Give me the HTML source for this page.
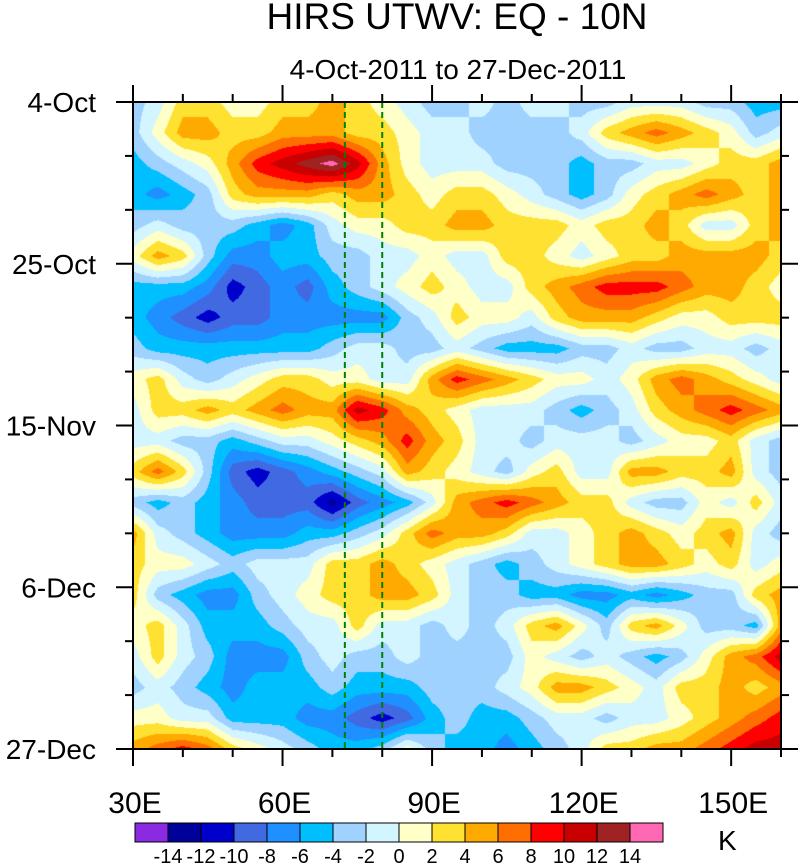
<!DOCTYPE html>
<html><head><meta charset="utf-8"><style>
body{margin:0;background:#fff;width:800px;height:864px;overflow:hidden;position:relative;font-family:"Liberation Sans",sans-serif}
.t{position:absolute;white-space:nowrap;color:#000}
</style></head><body>
<div class="t" style="left:0;width:914px;text-align:center;top:-4px;font-size:37px">HIRS UTWV: EQ - 10N</div>
<div class="t" style="left:0;width:916px;text-align:center;top:54px;font-size:28px">4-Oct-2011 to 27-Dec-2011</div>
<canvas id="cv" width="648" height="647" style="position:absolute;left:133px;top:102px"></canvas>
<svg id="sv" width="800" height="864" style="position:absolute;left:0;top:0"></svg>
<script>
const lons=[30,35,40,45,50,55,60,65,70,75,80,85,90,95,100,105,110,115,120,125,130,135,140,145,150,155,160];
const days=[0,4,8,12,16,20,24,28,32,36,40,44,48,52,56,60,64,68,72,76,80,84];
const utwv=[
[-3,-1,3,3,1,1,3,3,5,3,1,-1,-3,-3,-1,-3,-1,-1,-3,-3,-1,-1,-1,-3,-3,-5,-5],
[-3,1,5,5,3,3,5,5,5,3,3,1,-1,-1,-3,-3,-3,-3,-1,3,5,7,5,3,1,-3,-1],
[-5,-3,-1,1,5,9,11,13,15,11,5,1,-1,-1,-1,-3,-3,-3,-5,-3,-3,-1,-1,1,3,3,5],
[-5,-7,-5,-3,3,5,5,5,3,5,5,3,1,3,3,1,-1,-3,-5,-3,1,3,5,7,5,3,5],
[-3,-1,-3,-3,-3,-5,-7,-5,-1,1,1,3,3,5,5,3,3,3,1,3,3,5,3,-1,-1,3,5],
[1,5,3,-3,-7,-7,-5,-5,-3,-3,-1,-1,1,-1,-1,3,3,1,-1,1,3,3,5,5,5,5,3],
[-5,-5,-5,-7,-11,-9,-7,-9,-5,-3,-1,1,3,1,-1,-1,3,5,7,9,9,9,7,5,5,3,1],
[-5,-7,-9,-11,-9,-9,-7,-7,-7,-7,-7,-3,-1,3,1,1,-1,3,5,5,5,3,1,1,3,3,3],
[-3,-5,-5,-5,-5,-5,-5,-5,-3,-1,-1,-3,-3,-1,-3,-5,-5,-5,-3,-3,-1,-3,-3,-1,-1,-3,-1],
[1,3,-1,-3,-1,1,3,3,1,1,-1,-1,5,9,7,5,3,1,1,-1,1,5,7,5,3,1,-1],
[-1,3,3,5,3,5,7,5,5,11,9,5,3,1,-1,-1,-1,-3,-5,-3,-1,3,5,7,9,7,5],
[-1,-1,-3,-3,-5,-3,-1,-1,1,3,5,9,5,3,-1,-1,-3,-1,-1,-1,-3,-1,1,1,3,-1,-3],
[3,7,3,-3,-9,-11,-9,-7,-5,-3,-1,5,3,1,-1,-3,1,3,-1,-1,5,5,3,3,5,-1,-3],
[-3,-5,-3,-5,-7,-9,-9,-9,-13,-9,-7,-5,-1,5,7,9,7,5,3,3,-1,-3,-3,1,-1,3,-1],
[5,-1,-3,-5,-7,-7,-7,-5,-5,-3,-1,3,7,5,5,3,-1,-1,1,3,5,3,1,3,5,-1,-3],
[3,1,1,-1,-3,-1,-1,-1,3,3,5,3,1,-1,-3,-5,-3,-1,1,3,5,5,3,1,3,-1,1],
[3,-3,-5,-7,-7,-3,-1,1,3,3,5,5,3,-1,-3,-3,-5,-5,-7,-7,-5,-7,-5,-3,-3,3,5],
[1,3,-1,-5,-5,-5,-3,-1,-1,3,-1,-1,-3,-1,-3,-1,3,5,1,-3,3,5,1,-3,-3,-5,5],
[-1,3,-1,-3,-7,-7,-7,-3,-1,-3,-3,-1,-3,-3,-3,-3,1,-1,-3,-1,-3,-5,-3,1,5,7,11],
[-3,-1,-3,-5,-7,-5,-5,-5,-3,-5,-5,-5,-3,-3,-3,-1,1,5,5,3,1,-1,3,3,5,3,5],
[1,1,-1,-1,-5,-5,-5,-7,-7,-9,-11,-9,-5,-3,-5,-5,-3,-1,-1,-3,-1,-1,1,3,5,7,9],
[5,7,9,7,3,1,-1,-3,-5,-5,-3,1,-3,-5,-5,-7,-5,-3,-1,3,3,5,5,7,9,11,11]];
const levels=[-14,-12,-10,-8,-6,-4,-2,0,2,4,6,8,10,12,14];
const colors=["#8a2be2","#00009b","#0000cd","#4169e1","#1e90ff","#00bfff","#a0d2ff","#d2f5ff","#ffffc8","#ffe132","#ffaa00","#ff6e00","#ff0000","#c80000","#a02323","#ff69b4"];
const dashLons=[72.5,80];
const yTicks=[["4-Oct",0],["25-Oct",21],["15-Nov",42],["6-Dec",63],["27-Dec",84]];
const xTicks=[["30E",30],["60E",60],["90E",90],["120E",120],["150E",150]];

const PL=133,PT=102,PW=648,PH=647,L0=30,L1=160,D1=84;
const xs=l=>PL+(l-L0)/(L1-L0)*PW, ys=d=>PT+d/D1*PH;
function cls(v){let i=0;while(i<levels.length&&v>=levels[i])i++;return i;}
function hex(c){return [parseInt(c.substr(1,2),16),parseInt(c.substr(3,2),16),parseInt(c.substr(5,2),16)];}
const rgb=colors.map(hex);
const cv=document.getElementById('cv'),ctx=cv.getContext('2d');
const img=ctx.createImageData(PW,PH);
for(let py=0;py<PH;py++){
 const d=(py+0.5)/PH*D1; let r=Math.min(days.length-2,Math.floor(d/4)); const fy=(d-days[r])/(days[r+1]-days[r]);
 for(let px=0;px<PW;px++){
  const l=L0+(px+0.5)/PW*(L1-L0); let c=Math.min(lons.length-2,Math.floor((l-30)/5)); const fx=(l-lons[c])/(lons[c+1]-lons[c]);
  const v=(utwv[r][c]*(1-fx)+utwv[r][c+1]*fx)*(1-fy)+(utwv[r+1][c]*(1-fx)+utwv[r+1][c+1]*fx)*fy;
  const k=rgb[cls(v)], o=(py*PW+px)*4;
  img.data[o]=k[0];img.data[o+1]=k[1];img.data[o+2]=k[2];img.data[o+3]=255;
 }}
ctx.putImageData(img,0,0);
const sv=document.getElementById('sv'),NS="http://www.w3.org/2000/svg";
function mk(t,a,p){const e=document.createElementNS(NS,t);for(const k in a)e.setAttribute(k,a[k]);(p||sv).appendChild(e);return e;}
dashLons.forEach(l=>{
 const e=mk('line',{x1:xs(l),x2:xs(l),y1:PT,y2:PT+PH,stroke:'#008000','stroke-width':2,'stroke-dasharray':'6,4'});
 
 
});
const fr=mk('rect',{x:PL,y:PT,width:PW,height:PH,fill:'none',stroke:'#000','stroke-width':2});


for(let l=30;l<=160;l+=10){const mj=(l%30==0);
 mk('line',{x1:xs(l),x2:xs(l),y1:PT+PH,y2:PT+PH+(mj?17:8),stroke:'#000','stroke-width':2});
 mk('line',{x1:xs(l),x2:xs(l),y1:PT,y2:PT-(mj?17:8),stroke:'#000','stroke-width':2});}
for(let d=0;d<=84;d+=7){const mj=(d%21==0);
 mk('line',{x1:PL,x2:PL-(mj?17:8),y1:ys(d),y2:ys(d),stroke:'#000','stroke-width':2});
 mk('line',{x1:PL+PW,x2:PL+PW+(mj?17:8),y1:ys(d),y2:ys(d),stroke:'#000','stroke-width':2});}
yTicks.forEach(t=>{const e=mk('text',{x:96,y:ys(t[1])+10,'text-anchor':'end','font-size':28,'font-family':'Liberation Sans, sans-serif'});e.textContent=t[0];
 
 });
xTicks.forEach(t=>{const e=mk('text',{x:xs(t[1])+2,y:813,'text-anchor':'middle','font-size':30,'font-family':'Liberation Sans, sans-serif'});e.textContent=t[0];
 
 });
const CBX=135,CBW=33,CBY=823,CBH=19;
colors.forEach((c,i)=>{const e=mk('rect',{x:CBX+i*CBW,y:CBY,width:CBW,height:CBH,fill:c,stroke:'#000','stroke-width':1});
 
 });
levels.forEach((v,i)=>{const e=mk('text',{x:CBX+(i+1)*CBW,y:863,'text-anchor':'middle','font-size':20,'font-family':'Liberation Sans, sans-serif'});e.textContent=v;
 
 });
const k=mk('text',{x:718,y:850,'font-size':28,'font-family':'Liberation Sans, sans-serif'});k.textContent='K';


</script>
</body></html>
